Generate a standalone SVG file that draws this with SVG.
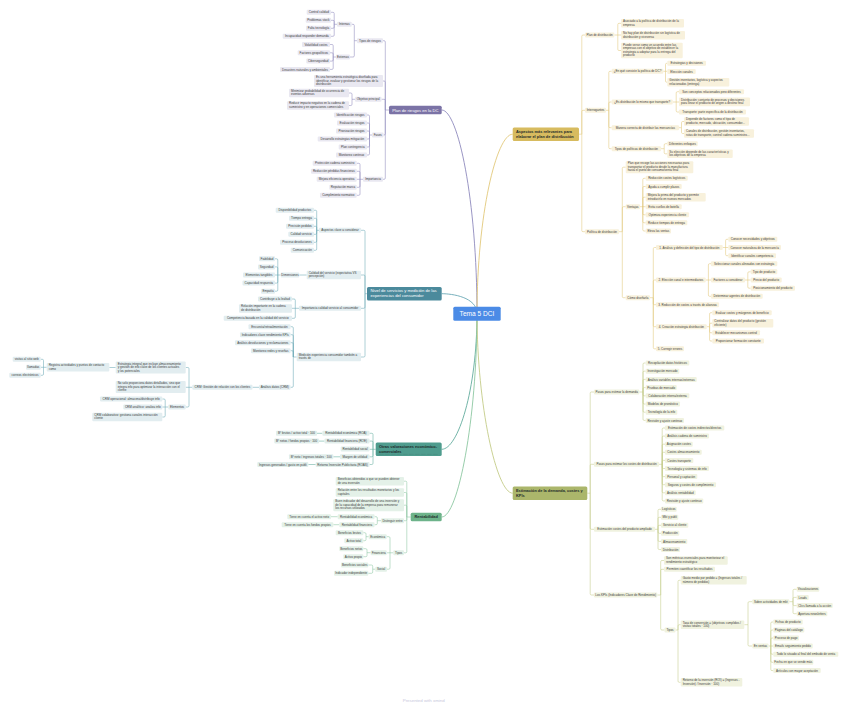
<svg xmlns="http://www.w3.org/2000/svg" width="848" height="707" viewBox="0 0 848 707">
<style>
text{font-family:"Liberation Sans",Arial,Helvetica,sans-serif;font-size:3px;fill:#3b3b3b}
.m{text-anchor:middle}
rect{rx:1px;ry:1px}
.p rect{fill:#e9e8f1}
.t rect{fill:#e2edf0}
.o rect{fill:#e1eeeb}
.g rect{fill:#e4f1e8}
.y rect{fill:#f8f1dc}
.v rect{fill:#f0f2df}
#connectors path{fill:none;stroke-width:.55}
#connectors path.mc{stroke-width:.9}
.cp path{stroke:#8f8abd}
.ct path{stroke:#6aa8b6}
.co path{stroke:#62ac9d}
.cg path{stroke:#8cc7a2}
.cy path{stroke:#e2c87b}
.cv path{stroke:#c4cc88}
.main rect{rx:1.5px;ry:1.5px}
.main text{font-size:4.2px;fill:#fff}
.dark text{font-size:3.9px;font-weight:bold;fill:#1f2b2a}
</style>
<rect width="848" height="707" fill="#fff" style="rx:0"/>
<g id="connectors">
<g class="cp">
<path class="mc" d="M441.7 110C458 110 477 200 477 313.7"/>
<path d="M389 110H385.3M385.3 110V41.9Q385.3 40.7 384.1 40.7H383M385.3 110V82.2Q385.3 81 384.1 81H383M385.3 110V100.5Q385.3 99.3 384.1 99.3H381.5M385.3 110V133.8Q385.3 135 384.1 135H383.5M385.3 110V178.1Q385.3 179.3 384.1 179.3H383"/>
<path d="M357 40.7H354.3M354.3 40.7V25.5Q354.3 24.3 353.1 24.3H351.7M354.3 40.7V55.8Q354.3 57 353.1 57H350"/>
<path d="M337 24.3H334.2M334.2 24.3V13.5Q334.2 12.3 333 12.3H331M334.2 24.3V21.5Q334.2 20.3 333 20.3H331M334.2 24.3V27.1Q334.2 28.3 333 28.3H331M334.2 24.3V35.1Q334.2 36.3 333 36.3H331"/>
<path d="M336 57H333.2M333.2 57V45.7Q333.2 44.5 332 44.5H330M333.2 57V54Q333.2 52.8 332 52.8H330M333.2 57V59.9Q333.2 61.1 332 61.1H330M333.2 57V68.2Q333.2 69.4 332 69.4H330"/>
<path d="M355 99.3H352M352 99.3V94.2Q352 93 350.8 93H349M352 99.3V104.3Q352 105.5 350.8 105.5H349"/>
<path d="M372 135H369.5M369.5 135V116.2Q369.5 115 368.3 115H367M369.5 135V124.2Q369.5 123 368.3 123H367M369.5 135V132.2Q369.5 131 368.3 131H367M369.5 135V137.8Q369.5 139 368.3 139H367M369.5 135V145.8Q369.5 147 368.3 147H367M369.5 135V153.8Q369.5 155 368.3 155H367"/>
<path d="M363 179.3H356.7M360 179.3V164.5Q360 163.3 358.8 163.3H356.7M360 179.3V172.5Q360 171.3 358.8 171.3H356.7M360 179.3V186.1Q360 187.3 358.8 187.3H356.7M360 179.3V194.1Q360 195.3 358.8 195.3H356.7"/>
</g>
<g class="ct">
<path class="mc" d="M441.7 293.7C452 293.7 477 297 477 313.7"/>
<path d="M367 293.7H365M365 293.7V231.5Q365 230.3 363.8 230.3H361M365 293.7V276.2Q365 275 363.8 275H361M365 293.7V307.1Q365 308.3 363.8 308.3H361M365 293.7V355.8Q365 357 363.8 357H361"/>
<path d="M319 230.3H316.7M316.7 230.3V211.5Q316.7 210.3 315.5 210.3H314M316.7 230.3V219.5Q316.7 218.3 315.5 218.3H314M316.7 230.3V227.5Q316.7 226.3 315.5 226.3H314M316.7 230.3V233.1Q316.7 234.3 315.5 234.3H314M316.7 230.3V241.1Q316.7 242.3 315.5 242.3H314M316.7 230.3V249.1Q316.7 250.3 315.5 250.3H314"/>
<path d="M306.7 275H299.3"/>
<path d="M280.7 275H275M277.8 275V260Q277.8 258.8 276.6 258.8H275M277.8 275V268.1Q277.8 266.9 276.6 266.9H275M277.8 275V281.9Q277.8 283.1 276.6 283.1H275M277.8 275V290Q277.8 291.2 276.6 291.2H275"/>
<path d="M299 308.3H292M295.3 308.3V300.2Q295.3 299 294.1 299H292M295.3 308.3V317.1Q295.3 318.3 294.1 318.3H292"/>
<path d="M296.7 357H293.3M293.3 357V327.9Q293.3 326.7 292.1 326.7H290.5M293.3 357V335.9Q293.3 334.7 292.1 334.7H290.5M293.3 357V343.9Q293.3 342.7 292.1 342.7H290.5M293.3 357V351.9Q293.3 350.7 292.1 350.7H290.5M293.3 357V386.1Q293.3 387.3 292.1 387.3H290.5"/>
<path d="M259 387.3H252.5"/>
<path d="M192.3 387.3H185.7M189 387.3V368.7Q189 367.5 187.8 367.5H185.7M189 387.3V405.8Q189 407 187.8 407H185.7"/>
<path d="M115.7 367.5H109.3"/>
<path d="M46.7 367.3H40.7M43.5 367.3V360.5Q43.5 359.3 42.3 359.3H40.7M43.5 367.3V374.1Q43.5 375.3 42.3 375.3H40.7"/>
<path d="M168.3 407H162.3M165.2 407V400.2Q165.2 399 164 399H162.3M165.2 407V415.8Q165.2 417 164 417H162.3"/>
</g>
<g class="co">
<path class="mc" d="M441.7 449.3C458 449.3 477 390 477 313.7"/>
<path d="M375.7 449.3H369.5M373 449.3V434.5Q373 433.3 371.8 433.3H369.5M373 449.3V442.3Q373 441.1 371.8 441.1H369.5M373 449.3V455.6Q373 456.8 371.8 456.8H369.5M373 449.3V463.3Q373 464.5 371.8 464.5H369.5"/>
<path d="M322.4 433.3H317M324.5 441.1H319M340 456.8H333.3M315.7 464.5H308.3"/>
</g>
<g class="cg">
<path class="mc" d="M441.7 517C458 517 477 420 477 313.7"/>
<path d="M410.7 517H406.8M406.8 517V482.4Q406.8 481.2 405.6 481.2H404M406.8 517V493.7Q406.8 492.5 405.6 492.5H404M406.8 517V506.4Q406.8 505.2 405.6 505.2H404M406.8 517V519.5Q406.8 520.7 405.6 520.7H404M406.8 517V551.6Q406.8 552.8 405.6 552.8H404"/>
<path d="M381 520.7H377.3M377.3 520.7V517.9Q377.3 516.7 376.1 516.7H374.5M377.3 520.7V523.5Q377.3 524.7 376.1 524.7H374.5"/>
<path d="M337.7 516.7H331M339.3 524.7H333.3"/>
<path d="M393.3 552.8H387M390 552.8V537.9Q390 536.7 388.8 536.7H386.7M390 552.8V568Q390 569.2 388.8 569.2H387"/>
<path d="M368.7 536.7H366M366 536.7V533.9Q366 532.7 364.8 532.7H363.3M366 536.7V539.5Q366 540.7 364.8 540.7H363.3"/>
<path d="M370.7 552.7H367M367 552.7V549.9Q367 548.7 365.8 548.7H363.3M367 552.7V555.5Q367 556.7 365.8 556.7H363.3"/>
<path d="M375.2 569.2H372.7M372.7 569.2V566.2Q372.7 565 371.5 565H368.3M372.7 569.2V572.1Q372.7 573.3 371.5 573.3H368.3"/>
</g>
<g class="cy">
<path class="mc" d="M512.7 134.2C496.5 134.2 477 215 477 313.7"/>
<path d="M579 134.2H581.8M581.8 134.2V36.2Q581.8 35 583 35H585M581.8 134.2V111.5Q581.8 110.3 583 110.3H585M581.8 134.2V230.5Q581.8 231.7 583 231.7H585"/>
<path d="M614.3 35H621M617.8 35V24.5Q617.8 23.3 619 23.3H621M617.8 35V49.3Q617.8 50.5 619 50.5H621"/>
<path d="M606 110.3H608.8M608.8 110.3V72.5Q608.8 71.3 610 71.3H611.7M608.8 110.3V103.2Q608.8 102 610 102H611.7M608.8 110.3V126.5Q608.8 127.7 610 127.7H611.7M608.8 110.3V147.5Q608.8 148.7 610 148.7H611.7"/>
<path d="M663.3 71.3H667.3M665.5 71.3V64.5Q665.5 63.3 666.7 63.3H667.3M665.5 71.3V81Q665.5 82.2 666.7 82.2H667.3"/>
<path d="M672.7 102H679M676.2 102V92.9Q676.2 91.7 677.4 91.7H679M676.2 102V110.8Q676.2 112 677.4 112H679"/>
<path d="M679 127.7H681.5M681.5 127.7V122.7Q681.5 121.5 682.7 121.5H684M681.5 127.7V132.3Q681.5 133.5 682.7 133.5H684"/>
<path d="M661 148.7H664.2M664.2 148.7V144.9Q664.2 143.7 665.4 143.7H667.3M664.2 148.7V152.6Q664.2 153.8 665.4 153.8H667.3"/>
<path d="M619 231.7H622.3M622.3 231.7V168.4Q622.3 167.2 623.5 167.2H625.7M622.3 231.7V207.9Q622.3 206.7 623.5 206.7H625.7M622.3 231.7V296.5Q622.3 297.7 623.5 297.7H625.7"/>
<path d="M640 206.7H645.7M642.8 206.7V179.5Q642.8 178.3 644 178.3H645.7M642.8 206.7V187.7Q642.8 186.5 644 186.5H645.7M642.8 206.7V198.4Q642.8 197.2 644 197.2H645.7M642.8 206.7V213.6Q642.8 214.8 644 214.8H645.7M642.8 206.7V221.6Q642.8 222.8 644 222.8H645.7M642.8 206.7V229.8Q642.8 231 644 231H645.7"/>
<path d="M650 297.7H653.3M653.3 297.7V248.7Q653.3 247.5 654.5 247.5H656M653.3 297.7V281.2Q653.3 280 654.5 280H656M653.3 297.7V303.5Q653.3 304.7 654.5 304.7H656M653.3 297.7V325.5Q653.3 326.7 654.5 326.7H656M653.3 297.7V347.6Q653.3 348.8 654.5 348.8H656"/>
<path d="M722.7 247.5H728.3M725.6 247.5V240.5Q725.6 239.3 726.8 239.3H728.3M725.6 247.5V254.5Q725.6 255.7 726.8 255.7H728.3"/>
<path d="M705.7 280H711M708.4 280V264.9Q708.4 263.7 709.6 263.7H711M708.4 280V295.1Q708.4 296.3 709.6 296.3H711"/>
<path d="M745 280H750.7M747.8 280V273Q747.8 271.8 749 271.8H750.7M747.8 280V287Q747.8 288.2 749 288.2H750.7"/>
<path d="M706.7 326.7H709.6M709.6 326.7V313.9Q709.6 312.7 710.8 312.7H712.3M709.6 326.7V324.4Q709.6 323.2 710.8 323.2H712.3M709.6 326.7V331.6Q709.6 332.8 710.8 332.8H712.3M709.6 326.7V339.8Q709.6 341 710.8 341H712.3"/>
</g>
<g class="cv">
<path class="mc" d="M512.7 493.2C496.5 493.2 477 405 477 313.7"/>
<path d="M587.3 493.2H590.2M590.2 493.2V393.2Q590.2 392 591.4 392H594M590.2 493.2V465.5Q590.2 464.3 591.4 464.3H594M590.2 493.2V528.1Q590.2 529.3 591.4 529.3H594M590.2 493.2V593.8Q590.2 595 591.4 595H594"/>
<path d="M639.3 392H643M643 392V364.2Q643 363 644.2 363H645.7M643 392V372.4Q643 371.2 644.2 371.2H645.7M643 392V380.6Q643 379.4 644.2 379.4H645.7M643 392V388.8Q643 387.6 644.2 387.6H645.7M643 392V394.6Q643 395.8 644.2 395.8H645.7M643 392V402.8Q643 404 644.2 404H645.7M643 392V411Q643 412.2 644.2 412.2H645.7M643 392V419.2Q643 420.4 644.2 420.4H645.7"/>
<path d="M659 464.3H662.2M662.2 464.3V429.2Q662.2 428 663.4 428H665M662.2 464.3V437.3Q662.2 436.1 663.4 436.1H665M662.2 464.3V445.4Q662.2 444.2 663.4 444.2H665M662.2 464.3V453.5Q662.2 452.3 663.4 452.3H665M662.2 464.3V461.6Q662.2 460.4 663.4 460.4H665M662.2 464.3V467.3Q662.2 468.5 663.4 468.5H665M662.2 464.3V475.4Q662.2 476.6 663.4 476.6H665M662.2 464.3V483.5Q662.2 484.7 663.4 484.7H665M662.2 464.3V491.6Q662.2 492.8 663.4 492.8H665M662.2 464.3V499.7Q662.2 500.9 663.4 500.9H665"/>
<path d="M655 529.3H658M658 529.3V510.5Q658 509.3 659.2 509.3H661M658 529.3V518.5Q658 517.3 659.2 517.3H661M658 529.3V526.5Q658 525.3 659.2 525.3H661M658 529.3V532.1Q658 533.3 659.2 533.3H661M658 529.3V540.2Q658 541.4 659.2 541.4H661M658 529.3V548.3Q658 549.5 659.2 549.5H661"/>
<path d="M657.3 595H660.7M660.7 595V561.7Q660.7 560.5 661.9 560.5H664M660.7 595V570.5Q660.7 569.3 661.9 569.3H664M660.7 595V628.8Q660.7 630 661.9 630H664.5"/>
<path d="M675.5 630H678M678 630V581.5Q678 580.3 679.2 580.3H680.7M678 630V625.9Q678 624.7 679.2 624.7H680.7M678 630V681.1Q678 682.3 679.2 682.3H680.7"/>
<path d="M744.3 624.7H748M748 624.7V602.9Q748 601.7 749.2 601.7H752.3M748 624.7V644.8Q748 646 749.2 646H752.3"/>
<path d="M789.3 601.7H793M793 601.7V590.5Q793 589.3 794.2 589.3H796.7M793 601.7V598.6Q793 597.4 794.2 597.4H796.7M793 601.7V604.4Q793 605.6 794.2 605.6H796.7M793 601.7V612.5Q793 613.7 794.2 613.7H796.7"/>
<path d="M768.5 646H773.3M770.8 646V623.2Q770.8 622 772 622H773.3M770.8 646V631.2Q770.8 630 772 630H773.3M770.8 646V639.2Q770.8 638 772 638H773.3M770.8 646V653Q770.8 654.2 772 654.2H773.3M770.8 646V661.1Q770.8 662.3 772 662.3H773.3M770.8 646V669.4Q770.8 670.6 772 670.6H773.3"/>
</g>
</g>

<g id="tema" class="main"><rect x="453.3" y="306.7" width="47.4" height="14" style="fill:#4b8be6"/><text class="m" x="477" y="316.2" style="font-size:6.6px">Tema 5 DCI</text></g>

<g id="plan-riesgos" class="main"><rect x="389" y="105.7" width="52.7" height="8.6" style="fill:#7b73a6"/><text class="m" x="415.35" y="111.5">Plan de riesgos en la DC</text></g>
<g id="p1" class="p"><rect x="357" y="38.2" width="26" height="5"/><text class="m" x="370" y="41.8">Tipos de riesgos</text></g>
<g id="p2" class="p"><rect x="337" y="21.8" width="14.7" height="5"/><text class="m" x="344.35" y="25.4">Internas</text></g>
<g id="p3" class="p"><rect x="306.7" y="9.8" width="24.3" height="5"/><text class="m" x="318.85" y="13.4">Control calidad</text></g>
<g id="p4" class="p"><rect x="305.7" y="17.8" width="25.3" height="5"/><text class="m" x="318.35" y="21.4">Problemas stock</text></g>
<g id="p5" class="p"><rect x="306" y="25.8" width="25" height="5"/><text class="m" x="318.5" y="29.4">Falta tecnología</text></g>
<g id="p6" class="p"><rect x="282.7" y="33.8" width="48.3" height="5"/><text class="m" x="306.85" y="37.4">Incapacidad responder demanda</text></g>
<g id="p7" class="p"><rect x="336" y="54.5" width="14" height="5"/><text class="m" x="343" y="58.1">Externas</text></g>
<g id="p8" class="p"><rect x="302" y="42" width="28" height="5"/><text class="m" x="316" y="45.6">Volatilidad costes</text></g>
<g id="p9" class="p"><rect x="297.7" y="50.3" width="32.3" height="5"/><text class="m" x="313.85" y="53.9">Factores geopolíticos</text></g>
<g id="p10" class="p"><rect x="306.3" y="58.6" width="23.7" height="5"/><text class="m" x="318.15" y="62.2">Ciberseguridad</text></g>
<g id="p11" class="p"><rect x="280" y="66.9" width="50" height="5"/><text class="m" x="305" y="70.5">Desastres naturales y ambientales</text></g>
<g id="p12" class="p"><rect x="314" y="74.95" width="69" height="12.1"/><text x="316" y="78.15">Es una herramienta estratégica diseñada para<tspan x="316" y="81.65">identificar, evaluar y gestionar los riesgos de la</tspan><tspan x="316" y="85.15">distribución</tspan></text></g>
<g id="p13" class="p"><rect x="355" y="96.8" width="26.5" height="5"/><text class="m" x="368.25" y="100.4">Objetivo principal</text></g>
<g id="p14" class="p"><rect x="289" y="88.7" width="60" height="8.6"/><text x="291" y="91.9">Minimizar probabilidad de ocurrencia de<tspan x="291" y="95.4">eventos adversos</tspan></text></g>
<g id="p15" class="p"><rect x="287" y="101.2" width="62" height="8.6"/><text x="289" y="104.4">Reducir impacto negativo en la cadena de<tspan x="289" y="107.9">suministro y en operaciones comerciales</tspan></text></g>
<g id="p16" class="p"><rect x="372" y="132.5" width="11.5" height="5"/><text class="m" x="377.75" y="136.1">Fases</text></g>
<g id="p17" class="p"><rect x="334" y="112.5" width="33" height="5"/><text class="m" x="350.5" y="116.1">Identificación riesgos</text></g>
<g id="p18" class="p"><rect x="337" y="120.5" width="30" height="5"/><text class="m" x="352" y="124.1">Evaluación riesgos</text></g>
<g id="p19" class="p"><rect x="336" y="128.5" width="31" height="5"/><text class="m" x="351.5" y="132.1">Priorización riesgos</text></g>
<g id="p20" class="p"><rect x="317.7" y="136.5" width="49.3" height="5"/><text class="m" x="342.35" y="140.1">Desarrollo estrategias mitigación</text></g>
<g id="p21" class="p"><rect x="338.7" y="144.5" width="28.3" height="5"/><text class="m" x="352.85" y="148.1">Plan contingencia</text></g>
<g id="p22" class="p"><rect x="336" y="152.5" width="31" height="5"/><text class="m" x="351.5" y="156.1">Monitoreo continuo</text></g>
<g id="p23" class="p"><rect x="363" y="176.8" width="20" height="5"/><text class="m" x="373" y="180.4">Importancia</text></g>
<g id="p24" class="p"><rect x="312.7" y="160.8" width="44" height="5"/><text class="m" x="334.7" y="164.4">Protección cadena suministro</text></g>
<g id="p25" class="p"><rect x="311" y="168.8" width="45.7" height="5"/><text class="m" x="333.85" y="172.4">Reducción pérdidas financieras</text></g>
<g id="p26" class="p"><rect x="316.7" y="176.8" width="40" height="5"/><text class="m" x="336.7" y="180.4">Mejora eficiencia operativa</text></g>
<g id="p27" class="p"><rect x="329.3" y="184.8" width="27.4" height="5"/><text class="m" x="343" y="188.4">Reputación marca</text></g>
<g id="p28" class="p"><rect x="320" y="192.8" width="36.7" height="5"/><text class="m" x="338.35" y="196.4">Cumplimiento normativo</text></g>

<g id="nivel-servicios" class="main"><rect x="367" y="287" width="74.7" height="13.5" style="fill:#4b8a9c"/><text x="370.5" y="292.4">Nivel de servicios y medición de las<tspan x="370.5" y="297.4">experiencias del consumidor</tspan></text></g>
<g id="t1" class="t"><rect x="319" y="227.8" width="42" height="5"/><text class="m" x="340" y="231.4">Aspectos clave a considerar</text></g>
<g id="t2" class="t"><rect x="275.7" y="207.8" width="38.3" height="5"/><text class="m" x="294.85" y="211.4">Disponibilidad productos</text></g>
<g id="t3" class="t"><rect x="289" y="215.8" width="25" height="5"/><text class="m" x="301.5" y="219.4">Tiempo entrega</text></g>
<g id="t4" class="t"><rect x="286" y="223.8" width="28" height="5"/><text class="m" x="300" y="227.4">Precisión pedidos</text></g>
<g id="t5" class="t"><rect x="288.3" y="231.8" width="25.7" height="5"/><text class="m" x="301.15" y="235.4">Calidad servicio</text></g>
<g id="t6" class="t"><rect x="280" y="239.8" width="34" height="5"/><text class="m" x="297" y="243.4">Proceso devoluciones</text></g>
<g id="t7" class="t"><rect x="290.7" y="247.8" width="23.3" height="5"/><text class="m" x="302.35" y="251.4">Comunicación</text></g>
<g id="t8" class="t"><rect x="306.7" y="270.7" width="54.3" height="8.6"/><text x="308.7" y="273.9">Calidad del servicio (expectativa VS<tspan x="308.7" y="277.4">percepción)</tspan></text></g>
<g id="t9" class="t"><rect x="280.7" y="272.5" width="18.6" height="5"/><text class="m" x="290" y="276.1">Dimensiones</text></g>
<g id="t10" class="t"><rect x="259" y="256.3" width="16" height="5"/><text class="m" x="267" y="259.9">Fiabilidad</text></g>
<g id="t11" class="t"><rect x="258" y="264.4" width="17" height="5"/><text class="m" x="266.5" y="268">Seguridad</text></g>
<g id="t12" class="t"><rect x="243" y="272.5" width="32" height="5"/><text class="m" x="259" y="276.1">Elementos tangibles</text></g>
<g id="t13" class="t"><rect x="242.5" y="280.6" width="32.5" height="5"/><text class="m" x="258.75" y="284.2">Capacidad respuesta</text></g>
<g id="t14" class="t"><rect x="261" y="288.7" width="14" height="5"/><text class="m" x="268" y="292.3">Empatía</text></g>
<g id="t15" class="t"><rect x="299" y="305.8" width="62" height="5"/><text class="m" x="330" y="309.4">Importancia calidad servicio al consumidor</text></g>
<g id="t16" class="t"><rect x="258" y="296.5" width="34" height="5"/><text class="m" x="275" y="300.1">Contribuye a la lealtad</text></g>
<g id="t17" class="t"><rect x="239" y="304.2" width="53" height="8.6"/><text x="241" y="307.4">Relación importante en la cadena<tspan x="241" y="310.9">de distribución</tspan></text></g>
<g id="t18" class="t"><rect x="223.7" y="315.8" width="68.3" height="5"/><text class="m" x="257.85" y="319.4">Competencia basada en la calidad del servicio</text></g>
<g id="t19" class="t"><rect x="296.7" y="352.7" width="64.3" height="8.6"/><text x="298.7" y="355.9">Medición experiencia consumidor también a<tspan x="298.7" y="359.4">través de</tspan></text></g>
<g id="t20" class="t"><rect x="248.5" y="324.2" width="42" height="5"/><text class="m" x="269.5" y="327.8">Encuesta/retroalimentación</text></g>
<g id="t21" class="t"><rect x="240" y="332.2" width="50.5" height="5"/><text class="m" x="265.25" y="335.8">Indicadores clave rendimiento KPIs</text></g>
<g id="t22" class="t"><rect x="235" y="340.2" width="55.5" height="5"/><text class="m" x="262.75" y="343.8">Análisis devoluciones y reclamaciones</text></g>
<g id="t23" class="t"><rect x="251" y="348.2" width="39.5" height="5"/><text class="m" x="270.75" y="351.8">Monitoreo redes y reseñas</text></g>
<g id="t24" class="t"><rect x="259" y="384.8" width="31.5" height="5"/><text class="m" x="274.75" y="388.4">Análisis datos (CRM)</text></g>
<g id="t25" class="t"><rect x="192.3" y="384.8" width="60.2" height="5"/><text class="m" x="222.4" y="388.4">CRM: Gestión de relación con los clientes</text></g>
<g id="t26" class="t"><rect x="115.7" y="361.45" width="70" height="12.1"/><text x="117.7" y="364.65">Estrategia integral que incluye almacenamiento<tspan x="117.7" y="368.15">y gestión de info clave de los clientes actuales</tspan><tspan x="117.7" y="371.65">y los potenciales</tspan></text></g>
<g id="t27" class="t"><rect x="46.7" y="363" width="62.6" height="8.6"/><text x="48.7" y="366.2">Registra actividades y puntos de contacto<tspan x="48.7" y="369.7">como</tspan></text></g>
<g id="t28" class="t"><rect x="12.7" y="356.8" width="28" height="5"/><text class="m" x="26.7" y="360.4">visitas al sitio web</text></g>
<g id="t29" class="t"><rect x="26" y="364.8" width="14.7" height="5"/><text class="m" x="33.35" y="368.4">llamadas</text></g>
<g id="t30" class="t"><rect x="9.3" y="372.8" width="31.4" height="5"/><text class="m" x="25" y="376.4">correos electrónicos</text></g>
<g id="t31" class="t"><rect x="115.7" y="380.95" width="70" height="12.1"/><text x="117.7" y="384.15">No solo proporciona datos detallados, sino que<tspan x="117.7" y="387.65">integra info para optimizar la interacción con el</tspan><tspan x="117.7" y="391.15">cliente</tspan></text></g>
<g id="t32" class="t"><rect x="168.3" y="404.5" width="17.4" height="5"/><text class="m" x="177" y="408.1">Elementos</text></g>
<g id="t33" class="t"><rect x="100" y="396.5" width="62.3" height="5"/><text class="m" x="131.15" y="400.1">CRM operacional: almacena/distribuye info</text></g>
<g id="t34" class="t"><rect x="123.3" y="404.5" width="39" height="5"/><text class="m" x="142.8" y="408.1">CRM analítico: analiza info</text></g>
<g id="t35" class="t"><rect x="92.3" y="412.7" width="70" height="8.6"/><text x="94.3" y="415.9">CRM colaborativo: gestiona canales interacción<tspan x="94.3" y="419.4">cliente</tspan></text></g>

<g id="otras-valoraciones" class="main dark"><rect x="375.7" y="442.5" width="66" height="13.5" style="fill:#4f9c8e"/><text x="379" y="447.9">Otras valoraciones económico-<tspan x="379" y="452.9">comerciales</tspan></text><line x1="379" y1="454.4" x2="438" y2="454.4" stroke="#1f2b2a" stroke-width=".3" stroke-dasharray=".3 .9"/></g>
<g id="o1" class="o"><rect x="322.4" y="430.8" width="47.1" height="5"/><text class="m" x="345.95" y="434.4">Rentabilidad económica (ROA)</text></g>
<g id="o2" class="o"><rect x="276" y="430.8" width="41" height="5"/><text class="m" x="296.5" y="434.4">Bº brutos / activo total · 100</text></g>
<g id="o3" class="o"><rect x="324.5" y="438.6" width="45" height="5"/><text class="m" x="347" y="442.2">Rentabilidad financiera (ROE)</text></g>
<g id="o4" class="o"><rect x="274.3" y="438.6" width="44.7" height="5"/><text class="m" x="296.65" y="442.2">Bº netos / fondos propios · 100</text></g>
<g id="o5" class="o"><rect x="340.7" y="446.5" width="28.8" height="5"/><text class="m" x="355.1" y="450.1">Rentabilidad social</text></g>
<g id="o6" class="o"><rect x="340" y="454.3" width="29.5" height="5"/><text class="m" x="354.75" y="457.9">Margen de utilidad</text></g>
<g id="o7" class="o"><rect x="289" y="454.3" width="44.3" height="5"/><text class="m" x="311.15" y="457.9">Bº neto / ingresos totales · 100</text></g>
<g id="o8" class="o"><rect x="315.7" y="462" width="53.8" height="5"/><text class="m" x="342.6" y="465.6">Retorno Inversión Publicitaria (ROAS)</text></g>
<g id="o9" class="o"><rect x="257.3" y="462" width="51" height="5"/><text class="m" x="282.8" y="465.6">Ingresos generados / gasto en publi</text></g>

<g id="rentabilidad" class="main dark"><rect x="410.7" y="512.7" width="31" height="8.6" style="fill:#6db38a"/><text class="m" x="426.2" y="518.4">Rentabilidad</text></g>
<g id="g1" class="g"><rect x="335.7" y="476.9" width="68.3" height="8.6"/><text x="337.7" y="480.1">Beneficios obtenidos o que se pueden obtener<tspan x="337.7" y="483.6">de una inversión</tspan></text></g>
<g id="g2" class="g"><rect x="335.7" y="488.2" width="68.3" height="8.6"/><text x="337.7" y="491.4">Relación entre los resultados monetarios y los<tspan x="337.7" y="494.9">capitales</tspan></text></g>
<g id="g3" class="g"><rect x="333.3" y="499.15" width="70.7" height="12.1"/><text x="335.3" y="502.35">Buen indicador del desarrollo de una inversión y<tspan x="335.3" y="505.85">de la capacidad de la empresa para remunerar</tspan><tspan x="335.3" y="509.35">los recursos utilizados</tspan></text></g>
<g id="g4" class="g"><rect x="381" y="518.2" width="23" height="5"/><text class="m" x="392.5" y="521.8">Distinguir entre</text></g>
<g id="g5" class="g"><rect x="337.7" y="514.2" width="36.8" height="5"/><text class="m" x="356.1" y="517.8">Rentabilidad económica</text></g>
<g id="g6" class="g"><rect x="287.3" y="514.2" width="43.7" height="5"/><text class="m" x="309.15" y="517.8">Tiene en cuenta el activo neto</text></g>
<g id="g7" class="g"><rect x="339.3" y="522.2" width="35.2" height="5"/><text class="m" x="356.9" y="525.8">Rentabilidad financiera</text></g>
<g id="g8" class="g"><rect x="281.7" y="522.2" width="51.6" height="5"/><text class="m" x="307.5" y="525.8">Tiene en cuenta los fondos propios</text></g>
<g id="g9" class="g"><rect x="393.3" y="550.3" width="10.7" height="5"/><text class="m" x="398.65" y="553.9">Tipos</text></g>
<g id="g10" class="g"><rect x="368.7" y="534.2" width="18" height="5"/><text class="m" x="377.7" y="537.8">Económica</text></g>
<g id="g11" class="g"><rect x="335.7" y="530.2" width="27.6" height="5"/><text class="m" x="349.5" y="533.8">Beneficios brutos</text></g>
<g id="g12" class="g"><rect x="344.3" y="538.2" width="19" height="5"/><text class="m" x="353.8" y="541.8">Activo total</text></g>
<g id="g13" class="g"><rect x="370.7" y="550.2" width="16" height="5"/><text class="m" x="378.7" y="553.8">Financiera</text></g>
<g id="g14" class="g"><rect x="339.3" y="546.2" width="24" height="5"/><text class="m" x="351.3" y="549.8">Beneficios netos</text></g>
<g id="g15" class="g"><rect x="343.3" y="554.2" width="20" height="5"/><text class="m" x="353.3" y="557.8">Activo propio</text></g>
<g id="g16" class="g"><rect x="375.2" y="566.7" width="11.8" height="5"/><text class="m" x="381.1" y="570.3">Social</text></g>
<g id="g17" class="g"><rect x="341" y="562.5" width="27.3" height="5"/><text class="m" x="354.65" y="566.1">Beneficios sociales</text></g>
<g id="g18" class="g"><rect x="334" y="570.8" width="34.3" height="5"/><text class="m" x="351.15" y="574.4">Indicador independiente</text></g>

<g id="aspectos" class="main dark"><rect x="512.7" y="127.4" width="66.3" height="13.6" style="fill:#d7bb5f"/><text x="516" y="132.8">Aspectos más relevantes para<tspan x="516" y="137.8">elaborar el plan de distribución</tspan></text></g>
<g id="y1" class="y"><rect x="585" y="32.5" width="29.3" height="5"/><text class="m" x="599.65" y="36.1">Plan de distribución</text></g>
<g id="y2" class="y"><rect x="621" y="19" width="63" height="8.6"/><text x="623" y="22.2">Asociado a la política de distribución de la<tspan x="623" y="25.7">empresa</tspan></text></g>
<g id="y3" class="y"><rect x="621" y="30.9" width="64" height="8.6"/><text x="623" y="34.1">No hay plan de distribución sin logística de<tspan x="623" y="37.6">distribución y viceversa</tspan></text></g>
<g id="y4" class="y"><rect x="621" y="42.7" width="61.7" height="15.6"/><text x="623" y="45.9">Puede verse como un acuerdo entre las<tspan x="623" y="49.4">empresas con el objetivo de establecer la</tspan><tspan x="623" y="52.9">estrategia a adoptar para la entrega del</tspan><tspan x="623" y="56.4">producto</tspan></text></g>
<g id="y5" class="y"><rect x="585" y="107.8" width="21" height="5"/><text class="m" x="595.5" y="111.4">Interrogantes</text></g>
<g id="y6" class="y"><rect x="611.7" y="68.8" width="51.6" height="5"/><text class="m" x="637.5" y="72.4">¿En qué consiste la política de DC?</text></g>
<g id="y7" class="y"><rect x="667.3" y="60.8" width="38.7" height="5"/><text class="m" x="686.65" y="64.4">Estrategias y decisiones</text></g>
<g id="y8" class="y"><rect x="667.3" y="69" width="28.4" height="5"/><text class="m" x="681.5" y="72.6">Elección canales</text></g>
<g id="y9" class="y"><rect x="667.3" y="77.9" width="62" height="8.6"/><text x="669.3" y="81.1">Gestión inventarios, logística y aspectos<tspan x="669.3" y="84.6">relacionados (entrega)</tspan></text></g>
<g id="y10" class="y"><rect x="611.7" y="99.5" width="61" height="5"/><text class="m" x="642.2" y="103.1">¿Es distribución lo mismo que transporte?</text></g>
<g id="y11" class="y"><rect x="679" y="89.2" width="65" height="5"/><text class="m" x="711.5" y="92.8">Son conceptos relacionados pero diferentes</text></g>
<g id="y12" class="y"><rect x="679" y="97.6" width="71" height="8.6"/><text x="681" y="100.8">Distribución: conjunto de procesos y decisiones<tspan x="681" y="104.3">para llevar el producto de origen a destino final</tspan></text></g>
<g id="y13" class="y"><rect x="679" y="109.5" width="67" height="5"/><text class="m" x="712.5" y="113.1">Transporte: parte específica de la distribución</text></g>
<g id="y14" class="y"><rect x="611.7" y="125.2" width="67.3" height="5"/><text class="m" x="645.35" y="128.8">Manera correcta de distribuir las mercancías</text></g>
<g id="y15" class="y"><rect x="684" y="117.2" width="65" height="8.6"/><text x="686" y="120.4">Depende de factores como el tipo de<tspan x="686" y="123.9">producto, mercado, ubicación, consumidor...</tspan></text></g>
<g id="y16" class="y"><rect x="684" y="129.2" width="70" height="8.6"/><text x="686" y="132.4">Canales de distribución, gestión inventarios,<tspan x="686" y="135.9">rutas de transporte, control cadena suministro...</tspan></text></g>
<g id="y17" class="y"><rect x="611.7" y="146.2" width="49.3" height="5"/><text class="m" x="636.35" y="149.8">Tipos de políticas de distribución</text></g>
<g id="y18" class="y"><rect x="667.3" y="141.2" width="30.4" height="5"/><text class="m" x="682.5" y="144.8">Diferentes enfoques</text></g>
<g id="y19" class="y"><rect x="667.3" y="149.5" width="65.4" height="8.6"/><text x="669.3" y="152.7">Su elección depende de las características y<tspan x="669.3" y="156.2">los objetivos de la empresa</tspan></text></g>
<g id="y20" class="y"><rect x="585" y="229.2" width="34" height="5"/><text class="m" x="602" y="232.8">Política de distribución</text></g>
<g id="y21" class="y"><rect x="625.7" y="161.15" width="67.6" height="12.1"/><text x="627.7" y="164.35">Plan que recoge las acciones necesarias para<tspan x="627.7" y="167.85">transportar el producto desde la manufactura</tspan><tspan x="627.7" y="171.35">hasta el punto de consumo/venta final</tspan></text></g>
<g id="y22" class="y"><rect x="625.7" y="204.2" width="14.3" height="5"/><text class="m" x="632.85" y="207.8">Ventajas</text></g>
<g id="y23" class="y"><rect x="645.7" y="175.8" width="42" height="5"/><text class="m" x="666.7" y="179.4">Reducción costes logísticos</text></g>
<g id="y24" class="y"><rect x="645.7" y="184" width="36" height="5"/><text class="m" x="663.7" y="187.6">Ayuda a cumplir plazos</text></g>
<g id="y25" class="y"><rect x="645.7" y="192.9" width="60" height="8.6"/><text x="647.7" y="196.1">Mejora la prima del producto y permite<tspan x="647.7" y="199.6">introducirlo en nuevos mercados</tspan></text></g>
<g id="y26" class="y"><rect x="645.7" y="204.2" width="36" height="5"/><text class="m" x="663.7" y="207.8">Evita cuellos de botella</text></g>
<g id="y27" class="y"><rect x="645.7" y="212.3" width="43.3" height="5"/><text class="m" x="667.35" y="215.9">Optimiza experiencia cliente</text></g>
<g id="y28" class="y"><rect x="645.7" y="220.3" width="41.6" height="5"/><text class="m" x="666.5" y="223.9">Reduce tiempos de entrega</text></g>
<g id="y29" class="y"><rect x="645.7" y="228.5" width="25.3" height="5"/><text class="m" x="658.35" y="232.1">Eleva las ventas</text></g>
<g id="y30" class="y"><rect x="625.7" y="295.2" width="24.3" height="5"/><text class="m" x="637.85" y="298.8">Cómo diseñarla</text></g>
<g id="y31" class="y"><rect x="656" y="245" width="66.7" height="5"/><text class="m" x="689.35" y="248.6">1. Análisis y definición del tipo de distribución</text></g>
<g id="y32" class="y"><rect x="728.3" y="236.8" width="49" height="5"/><text class="m" x="752.8" y="240.4">Conocer necesidades y objetivos</text></g>
<g id="y33" class="y"><rect x="728.3" y="245" width="52.7" height="5"/><text class="m" x="754.65" y="248.6">Conocer naturaleza de la mercancía</text></g>
<g id="y34" class="y"><rect x="728.3" y="253.2" width="47.7" height="5"/><text class="m" x="752.15" y="256.8">Identificar canales competencia</text></g>
<g id="y35" class="y"><rect x="656" y="277.5" width="49.7" height="5"/><text class="m" x="680.85" y="281.1">2. Elección canal e intermediarios</text></g>
<g id="y36" class="y"><rect x="711" y="261.2" width="66.3" height="5"/><text class="m" x="744.15" y="264.8">Seleccionar canales alineados con estrategia</text></g>
<g id="y37" class="y"><rect x="711" y="277.5" width="34" height="5"/><text class="m" x="728" y="281.1">Factores a considerar</text></g>
<g id="y38" class="y"><rect x="750.7" y="269.3" width="26.6" height="5"/><text class="m" x="764" y="272.9">Tipo de producto</text></g>
<g id="y39" class="y"><rect x="750.7" y="277.5" width="31" height="5"/><text class="m" x="766.2" y="281.1">Precio del producto</text></g>
<g id="y40" class="y"><rect x="750.7" y="285.7" width="44.3" height="5"/><text class="m" x="772.85" y="289.3">Posicionamiento del producto</text></g>
<g id="y41" class="y"><rect x="711" y="293.8" width="51.7" height="5"/><text class="m" x="736.85" y="297.4">Determinar agentes de distribución</text></g>
<g id="y42" class="y"><rect x="656" y="302.2" width="63" height="5"/><text class="m" x="687.5" y="305.8">3. Reducción de costes a través de alianzas</text></g>
<g id="y43" class="y"><rect x="656" y="324.2" width="50.7" height="5"/><text class="m" x="681.35" y="327.8">4. Creación estrategia distribución</text></g>
<g id="y44" class="y"><rect x="712.3" y="310.2" width="59.4" height="5"/><text class="m" x="742" y="313.8">Evaluar costes y márgenes de beneficio</text></g>
<g id="y45" class="y"><rect x="712.3" y="318.9" width="61" height="8.6"/><text x="714.3" y="322.1">Centralizar datos del producto (gestión<tspan x="714.3" y="325.6">eficiente)</tspan></text></g>
<g id="y46" class="y"><rect x="712.3" y="330.3" width="47.7" height="5"/><text class="m" x="736.15" y="333.9">Establecer mecanismos control</text></g>
<g id="y47" class="y"><rect x="712.3" y="338.5" width="51.7" height="5"/><text class="m" x="738.15" y="342.1">Proporcionar formación constante</text></g>
<g id="y48" class="y"><rect x="656" y="346.3" width="28" height="5"/><text class="m" x="670" y="349.9">5. Corregir errores</text></g>

<g id="estimacion" class="main dark"><rect x="512.7" y="486.4" width="74.6" height="13.6" style="fill:#abb66b"/><text x="516" y="491.8">Estimación de la demanda, costes y<tspan x="516" y="496.8">KPIs</tspan></text></g>
<g id="v1" class="v"><rect x="594" y="389.5" width="45.3" height="5"/><text class="m" x="616.65" y="393.1">Pasos para estimar la demanda</text></g>
<g id="v2" class="v"><rect x="645.7" y="360.5" width="43.6" height="5"/><text class="m" x="667.5" y="364.1">Recopilación datos históricos</text></g>
<g id="v3" class="v"><rect x="645.7" y="368.7" width="33.6" height="5"/><text class="m" x="662.5" y="372.3">Investigación mercado</text></g>
<g id="v4" class="v"><rect x="645.7" y="376.9" width="51" height="5"/><text class="m" x="671.2" y="380.5">Análisis variables internas/externas</text></g>
<g id="v5" class="v"><rect x="645.7" y="385.1" width="31" height="5"/><text class="m" x="661.2" y="388.7">Pruebas de mercado</text></g>
<g id="v6" class="v"><rect x="645.7" y="393.3" width="43.6" height="5"/><text class="m" x="667.5" y="396.9">Colaboración interna/externa</text></g>
<g id="v7" class="v"><rect x="645.7" y="401.5" width="34.3" height="5"/><text class="m" x="662.85" y="405.1">Modelos de pronóstico</text></g>
<g id="v8" class="v"><rect x="645.7" y="409.7" width="31.6" height="5"/><text class="m" x="661.5" y="413.3">Tecnología de la info</text></g>
<g id="v9" class="v"><rect x="645.7" y="417.9" width="38.3" height="5"/><text class="m" x="664.85" y="421.5">Revisión y ajuste continuo</text></g>
<g id="v10" class="v"><rect x="594" y="461.8" width="65" height="5"/><text class="m" x="626.5" y="465.4">Pasos para estimar los costes de distribución</text></g>
<g id="v11" class="v"><rect x="665" y="425.5" width="59.3" height="5"/><text class="m" x="694.65" y="429.1">Estimación de costes indirectos/directos</text></g>
<g id="v12" class="v"><rect x="665" y="433.6" width="44" height="5"/><text class="m" x="687" y="437.2">Análisis cadena de suministro</text></g>
<g id="v13" class="v"><rect x="665" y="441.7" width="27.7" height="5"/><text class="m" x="678.85" y="445.3">Asignación costes</text></g>
<g id="v14" class="v"><rect x="665" y="449.8" width="36.7" height="5"/><text class="m" x="683.35" y="453.4">Costes almacenamiento</text></g>
<g id="v15" class="v"><rect x="665" y="457.9" width="28.3" height="5"/><text class="m" x="679.15" y="461.5">Costes transporte</text></g>
<g id="v16" class="v"><rect x="665" y="466" width="44" height="5"/><text class="m" x="687" y="469.6">Tecnología y sistemas de info</text></g>
<g id="v17" class="v"><rect x="665" y="474.1" width="32.3" height="5"/><text class="m" x="681.15" y="477.7">Personal y captación</text></g>
<g id="v18" class="v"><rect x="665" y="482.2" width="51" height="5"/><text class="m" x="690.5" y="485.8">Seguros y costes de cumplimiento</text></g>
<g id="v19" class="v"><rect x="665" y="490.3" width="30.7" height="5"/><text class="m" x="680.35" y="493.9">Análisis rentabilidad</text></g>
<g id="v20" class="v"><rect x="665" y="498.4" width="38.3" height="5"/><text class="m" x="684.15" y="502">Revisión y ajuste continuo</text></g>
<g id="v21" class="v"><rect x="594" y="526.8" width="61" height="5"/><text class="m" x="624.5" y="530.4">Estimación costes del producto ampliado</text></g>
<g id="v22" class="v"><rect x="661" y="506.8" width="15.7" height="5"/><text class="m" x="668.85" y="510.4">Logísticos</text></g>
<g id="v23" class="v"><rect x="661" y="514.8" width="17.3" height="5"/><text class="m" x="669.65" y="518.4">Mkt y publi</text></g>
<g id="v24" class="v"><rect x="661" y="522.8" width="27.3" height="5"/><text class="m" x="674.65" y="526.4">Servicio al cliente</text></g>
<g id="v25" class="v"><rect x="661" y="530.8" width="18.3" height="5"/><text class="m" x="670.15" y="534.4">Producción</text></g>
<g id="v26" class="v"><rect x="661" y="538.9" width="26.3" height="5"/><text class="m" x="674.15" y="542.5">Almacenamiento</text></g>
<g id="v27" class="v"><rect x="661" y="547" width="19" height="5"/><text class="m" x="670.5" y="550.6">Distribución</text></g>
<g id="v28" class="v"><rect x="594" y="592.5" width="63.3" height="5"/><text class="m" x="625.65" y="596.1">Los KPIs (Indicadores Clave de Rendimiento)</text></g>
<g id="v29" class="v"><rect x="664" y="556.2" width="63.7" height="8.6"/><text x="666" y="559.4">Son métricas esenciales para monitorizar el<tspan x="666" y="562.9">rendimiento estratégico</tspan></text></g>
<g id="v30" class="v"><rect x="664" y="566.8" width="51" height="5"/><text class="m" x="689.5" y="570.4">Permiten cuantificar los resultados</text></g>
<g id="v31" class="v"><rect x="664.5" y="627.5" width="11" height="5"/><text class="m" x="670" y="631.1">Tipos</text></g>
<g id="v32" class="v"><rect x="680.7" y="576" width="66" height="8.6"/><text x="682.7" y="579.2">Gasto medio por pedido = (Ingresos totales /<tspan x="682.7" y="582.7">número de pedidos)</tspan></text></g>
<g id="v33" class="v"><rect x="680.7" y="620.4" width="63.6" height="8.6"/><text x="682.7" y="623.6">Tasa de conversión = (objetivos cumplidos /<tspan x="682.7" y="627.1">visitas totales · 100)</tspan></text></g>
<g id="v34" class="v"><rect x="680.7" y="678" width="61.6" height="8.6"/><text x="682.7" y="681.2">Retorno de la inversión (ROI) = (Ingresos -<tspan x="682.7" y="684.7">Inversión) / Inversión · 100)</tspan></text></g>
<g id="v35" class="v"><rect x="752.3" y="599.2" width="37" height="5"/><text class="m" x="770.8" y="602.8">Sobre actividades de mkt</text></g>
<g id="v36" class="v"><rect x="796.7" y="586.8" width="22.6" height="5"/><text class="m" x="808" y="590.4">Visualizaciones</text></g>
<g id="v37" class="v"><rect x="796.7" y="594.9" width="12" height="5"/><text class="m" x="802.7" y="598.5">Leads</text></g>
<g id="v38" class="v"><rect x="796.7" y="603.1" width="36" height="5"/><text class="m" x="814.7" y="606.7">Clics llamada a la acción</text></g>
<g id="v39" class="v"><rect x="796.7" y="611.2" width="30.6" height="5"/><text class="m" x="812" y="614.8">Apertura newsletters</text></g>
<g id="v40" class="v"><rect x="752.3" y="643.5" width="16.2" height="5"/><text class="m" x="760.4" y="647.1">En ventas</text></g>
<g id="v41" class="v"><rect x="773.3" y="619.5" width="29.4" height="5"/><text class="m" x="788" y="623.1">Fichas de producto</text></g>
<g id="v42" class="v"><rect x="773.3" y="627.5" width="31" height="5"/><text class="m" x="788.8" y="631.1">Páginas del catálogo</text></g>
<g id="v43" class="v"><rect x="773.3" y="635.5" width="25.7" height="5"/><text class="m" x="786.15" y="639.1">Proceso de pago</text></g>
<g id="v44" class="v"><rect x="773.3" y="643.5" width="39.4" height="5"/><text class="m" x="793" y="647.1">Emails seguimiento pedido</text></g>
<g id="v45" class="v"><rect x="773.3" y="651.7" width="65" height="5"/><text class="m" x="805.8" y="655.3">Todo lo situado al final del embudo de venta</text></g>
<g id="v46" class="v"><rect x="773.3" y="659.8" width="40" height="5"/><text class="m" x="793.3" y="663.4">Fecha en que se vende más</text></g>
<g id="v47" class="v"><rect x="773.3" y="668.1" width="47.4" height="5"/><text class="m" x="797" y="671.7">Artículos con mayor aceptación</text></g>

<text class="m" x="423.7" y="701.5" style="font-size:4.4px;fill:#c8c8dc">Presented with xmind</text>
</svg>
